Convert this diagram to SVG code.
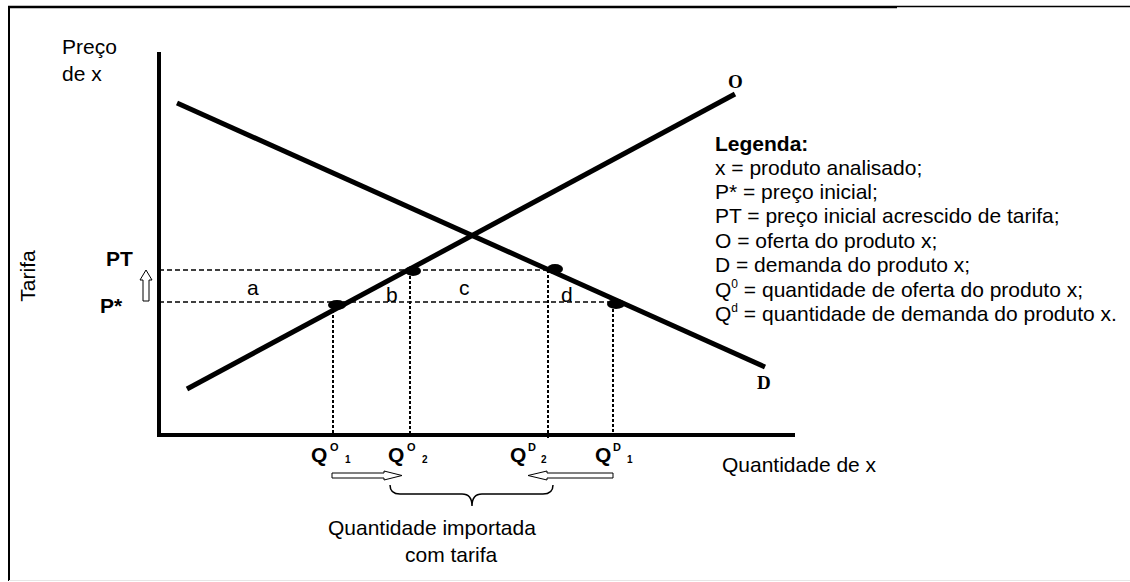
<svg xmlns="http://www.w3.org/2000/svg" width="1130" height="582" viewBox="0 0 1130 582">
<style>
.t{font-family:"Liberation Sans",Arial,sans-serif;font-size:21px;fill:#000}
.b{font-family:"Liberation Sans",Arial,sans-serif;font-weight:bold;fill:#000}
.s{font-family:"Liberation Serif","Times New Roman",serif;font-weight:bold;font-size:19px;fill:#000}
.curve{stroke:#000;stroke-width:5;fill:none}
.axis{stroke:#000;stroke-width:4;fill:none}
.dash{stroke:#000;stroke-width:1.5;stroke-dasharray:5 3;fill:none}
.dot{stroke:#000;stroke-width:2;stroke-dasharray:3 2;fill:none}
.hollow{fill:#fff;stroke:#000;stroke-width:1}
</style>
<rect x="0" y="0" width="1130" height="582" fill="#fff"/>
<g id="frame">
<line x1="8" y1="7" x2="897" y2="7" stroke="#000" stroke-width="2.5"/>
<line x1="897" y1="6.5" x2="1130" y2="6.5" stroke="#000" stroke-width="1.5"/>
<line x1="9" y1="6" x2="9" y2="581" stroke="#000" stroke-width="2"/>
<line x1="9" y1="580.5" x2="1130" y2="580.5" stroke="#e6e6e6" stroke-width="1"/>
</g>
<g id="axes">
<line class="axis" x1="159" y1="52" x2="159" y2="436"/>
<line class="axis" x1="157" y1="435" x2="795" y2="435"/>
</g>
<g id="connectors">
<line class="dash" x1="159" y1="270" x2="555" y2="270"/>
<line class="dash" x1="159" y1="302" x2="616" y2="302"/>
<line class="dot" x1="333" y1="305" x2="333" y2="434"/>
<line class="dot" x1="410" y1="271" x2="410" y2="434"/>
<line class="dot" x1="548" y1="270" x2="548" y2="440"/>
<line class="dot" x1="613" y1="304" x2="613" y2="434"/>
</g>
<g id="demand">
<line class="curve" x1="177" y1="103" x2="765" y2="367"/>
<text class="s" x="757" y="389">D</text>
</g>
<g id="supply">
<line class="curve" x1="187" y1="389" x2="735" y2="94"/>
<text class="s" x="728" y="88">O</text>
</g>
<g id="points">
<ellipse cx="337" cy="305" rx="9" ry="5" fill="#000"/>
<ellipse cx="413" cy="271" rx="8" ry="5" fill="#000"/>
<ellipse cx="555" cy="269" rx="8" ry="5" fill="#000"/>
<ellipse cx="616" cy="304" rx="9" ry="5" fill="#000"/>
</g>
<g id="axis-labels">
<text class="t" x="62" y="54">Preço</text>
<text class="t" x="62" y="81">de x</text>
<text class="t" transform="translate(35,276) rotate(-90)" text-anchor="middle">Tarifa</text>
<text class="t" x="722" y="472">Quantidade de x</text>
<text class="b" x="106" y="266" font-size="21">PT</text>
<text class="b" x="100" y="313" font-size="21">P*</text>
<polygon class="hollow" points="146,270 152,280 149,280 149,301 143,301 143,280 140,280"/>
</g>
<g id="areas">
<text class="t" x="247" y="295">a</text>
<text class="t" x="386" y="302">b</text>
<text class="t" x="459" y="295">c</text>
<text class="t" x="561" y="302">d</text>
</g>
<g id="q-labels">
<text class="b" x="311" y="462" font-size="21">Q</text><text class="b" x="330" y="451" font-size="11">O</text><text class="b" x="345" y="463" font-size="10">1</text>
<text class="b" x="388" y="462" font-size="21">Q</text><text class="b" x="407" y="451" font-size="11">O</text><text class="b" x="422" y="463" font-size="10">2</text>
<text class="b" x="510" y="462" font-size="21">Q</text><text class="b" x="528" y="451" font-size="11">D</text><text class="b" x="541" y="463" font-size="10">2</text>
<text class="b" x="595" y="462" font-size="21">Q</text><text class="b" x="613" y="451" font-size="11">D</text><text class="b" x="627" y="463" font-size="10">1</text>
</g>
<g id="import-arrows">
<polygon class="hollow" points="332,473 384,473 384,471 402,475.5 384,480 384,478 332,478"/>
<polygon class="hollow" points="613,473 547,473 547,471 528,475.5 547,480 547,478 613,478"/>
<path d="M390,485 Q390,494 400,494 L462,494 Q472,494 472,506 Q472,494 482,494 L543,494 Q553,494 553,485" fill="none" stroke="#000" stroke-width="1.5"/>
<text class="t" x="328" y="535">Quantidade importada</text>
<text class="t" x="405" y="562">com tarifa</text>
</g>
<g id="legend">
<text class="b" x="715" y="151" font-size="21">Legenda:</text>
<text class="t" x="715" y="175">x = produto analisado;</text>
<text class="t" x="715" y="199">P* = preço inicial;</text>
<text class="t" x="715" y="223">PT = preço inicial acrescido de tarifa;</text>
<text class="t" x="715" y="248">O = oferta do produto x;</text>
<text class="t" x="715" y="272">D = demanda do produto x;</text>
<text class="t" x="715" y="297">Q<tspan font-size="12" dy="-9">0</tspan><tspan dy="9"> = quantidade de oferta do produto x;</tspan></text>
<text class="t" x="715" y="321">Q<tspan font-size="12" dy="-9">d</tspan><tspan dy="9"> = quantidade de demanda do produto x.</tspan></text>
</g>
</svg>
